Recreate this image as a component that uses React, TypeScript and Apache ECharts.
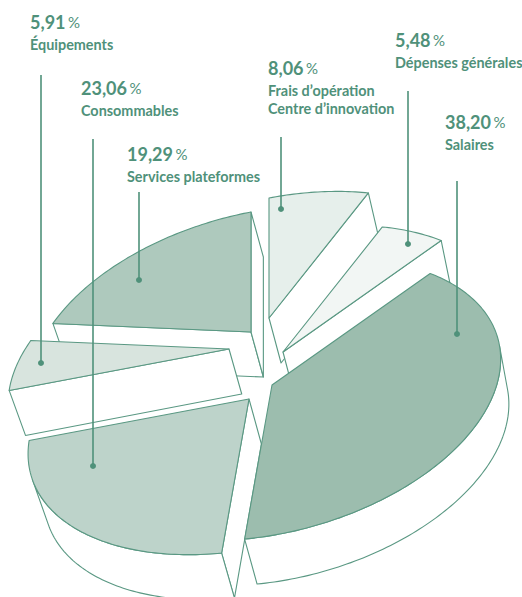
import React, { useEffect, useRef } from "react";
import * as echarts from "echarts";

// Data, clockwise from the top of the pie
const categories = ["Frais d’opération\nCentre d’innovation", "Dépenses générales", "Salaires", "Consommables", "Équipements", "Services plateformes"];
const shares = [8.06, 5.48, 38.2, 23.06, 5.91, 19.29];
const shareLabels = ["8,06", "5,48", "38,20", "23,06", "5,91", "19,29"];

// Layout and styles
const W = 522, H = 597;
const INK = "#4f917a";
const fills = ["#e6efeb", "#f2f6f4", "#9cbdae", "#bdd3ca", "#d8e4de", "#aec9bd"];
const apexes = [[269, 318], [283, 352], [272, 385], [249, 399], [229, 349], [251, 332]];
const drawOrder = [0, 5, 1, 4, 3, 2];
const labelPos = [[268, 68], [395, 40], [445, 122], [81, 88], [30, 22], [127, 154]];
const leaders = [[281, 137, 209], [408, 91, 244], [457, 181, 334], [93, 139, 466], [41, 75, 363], [139, 192, 280]];

// Projection of the pie's disc on the page (perspective)
const project = (t: number) => {
  const s = Math.sin(t), c = Math.cos(t);
  const d = 1 - 0.017 * s + 0.1125 * c;
  return [(223.3 * s) / d, (-40.4 * s - 133.5 * c) / d];
};
const extrude = (p: number[]) => [p[0] + 16.5 - 0.0165 * p[0], p[1] + 45];

const starts = shares.map((_, i) => shares.slice(0, i).reduce((a, b) => a + b, 0));

function sliceShapes(i: number) {
  const [ax, ay] = apexes[i];
  const t0 = (starts[i] / 100) * Math.PI * 2;
  const t1 = ((starts[i] + shares[i]) / 100) * Math.PI * 2;
  const steps = Math.max(6, Math.round(((t1 - t0) * 180) / Math.PI));
  const arc: number[][] = [];
  for (let k = 0; k <= steps; k++) {
    const p = project(t0 + ((t1 - t0) * k) / steps);
    arc.push([ax + p[0], ay + p[1]]);
  }
  const apex = [ax, ay];
  const chains = [[apex, arc[0]], arc, [arc[arc.length - 1], apex]];
  const shapes: any[] = [];
  const stroke = { stroke: "#5a9883", lineWidth: 1.1, lineJoin: "round" };
  for (const chain of chains) {
    let run: number[][] = [];
    const flush = () => {
      if (run.length > 1) {
        const pts = [...run, ...run.slice().reverse().map(extrude)];
        shapes.push({ type: "polygon", silent: true, shape: { points: pts }, style: { fill: "#ffffff", ...stroke } });
      }
      run = [];
    };
    for (let k = 0; k < chain.length - 1; k++) {
      const p = chain[k], q = chain[k + 1];
      const e = [extrude(p)[0] - p[0], 45];
      const facing = (q[1] - p[1]) * e[0] - (q[0] - p[0]) * e[1] > 0;
      if (facing) {
        if (!run.length) run.push(p);
        run.push(q);
      } else flush();
    }
    flush();
  }
  shapes.push({ type: "polygon", silent: true, shape: { points: [apex, ...arc] }, style: { fill: fills[i], ...stroke } });
  return shapes;
}

function labelElements() {
  const out: any[] = [];
  categories.forEach((name, i) => {
    const [x, y] = labelPos[i];
    out.push({
      type: "text", x, y, z: 20, silent: true,
      style: {
        text: `{n|${shareLabels[i]}}{s| }{p|%}`,
        verticalAlign: "middle",
        rich: {
          n: { fontFamily: "Lato", fontWeight: 700, fontSize: 18, fill: INK },
          s: { fontFamily: "Lato", fontWeight: 400, fontSize: 10, fill: INK },
          p: { fontFamily: "Lato", fontWeight: 400, fontSize: 15, fill: INK },
        },
      },
    });
    name.split("\n").forEach((line, k) => {
      out.push({
        type: "text", x, y: y + 22.5 + k * 18, z: 20, silent: true,
        style: { text: line, fontFamily: "Lato", fontWeight: 700, fontSize: 14.4, fill: INK, verticalAlign: "middle" },
      });
    });
  });
  leaders.forEach(([x, y0, y1]) => {
    out.push({ type: "line", z: 20, silent: true, shape: { x1: x, y1: y0, x2: x, y2: y1 }, style: { stroke: INK, lineWidth: 1.6 } });
    out.push({ type: "circle", z: 20, silent: true, shape: { cx: x, cy: y1, r: 3 }, style: { fill: INK } });
  });
  return out;
}

export default function App() {
  const ref = useRef<HTMLDivElement>(null);
  useEffect(() => {
    document.body.style.margin = "0";
    const chart = echarts.init(ref.current!, undefined, { renderer: "svg" });
    chart.setOption({
      animation: false,
      backgroundColor: "#ffffff",
      series: [
        {
          type: "custom",
          coordinateSystem: "none",
          silent: true,
          z: 2,
          data: drawOrder.map((i) => ({ name: categories[i], value: [shares[i], i] })),
          renderItem: (_: any, api: any) => ({ type: "group", children: sliceShapes(api.value(1)) }),
        },
      ],
      graphic: { z: 100, elements: labelElements() },
    });
    return () => chart.dispose();
  }, []);
  return <div ref={ref} style={{ position: "absolute", left: 0, top: 0, width: W, height: H, overflow: "hidden" }} />;
}
